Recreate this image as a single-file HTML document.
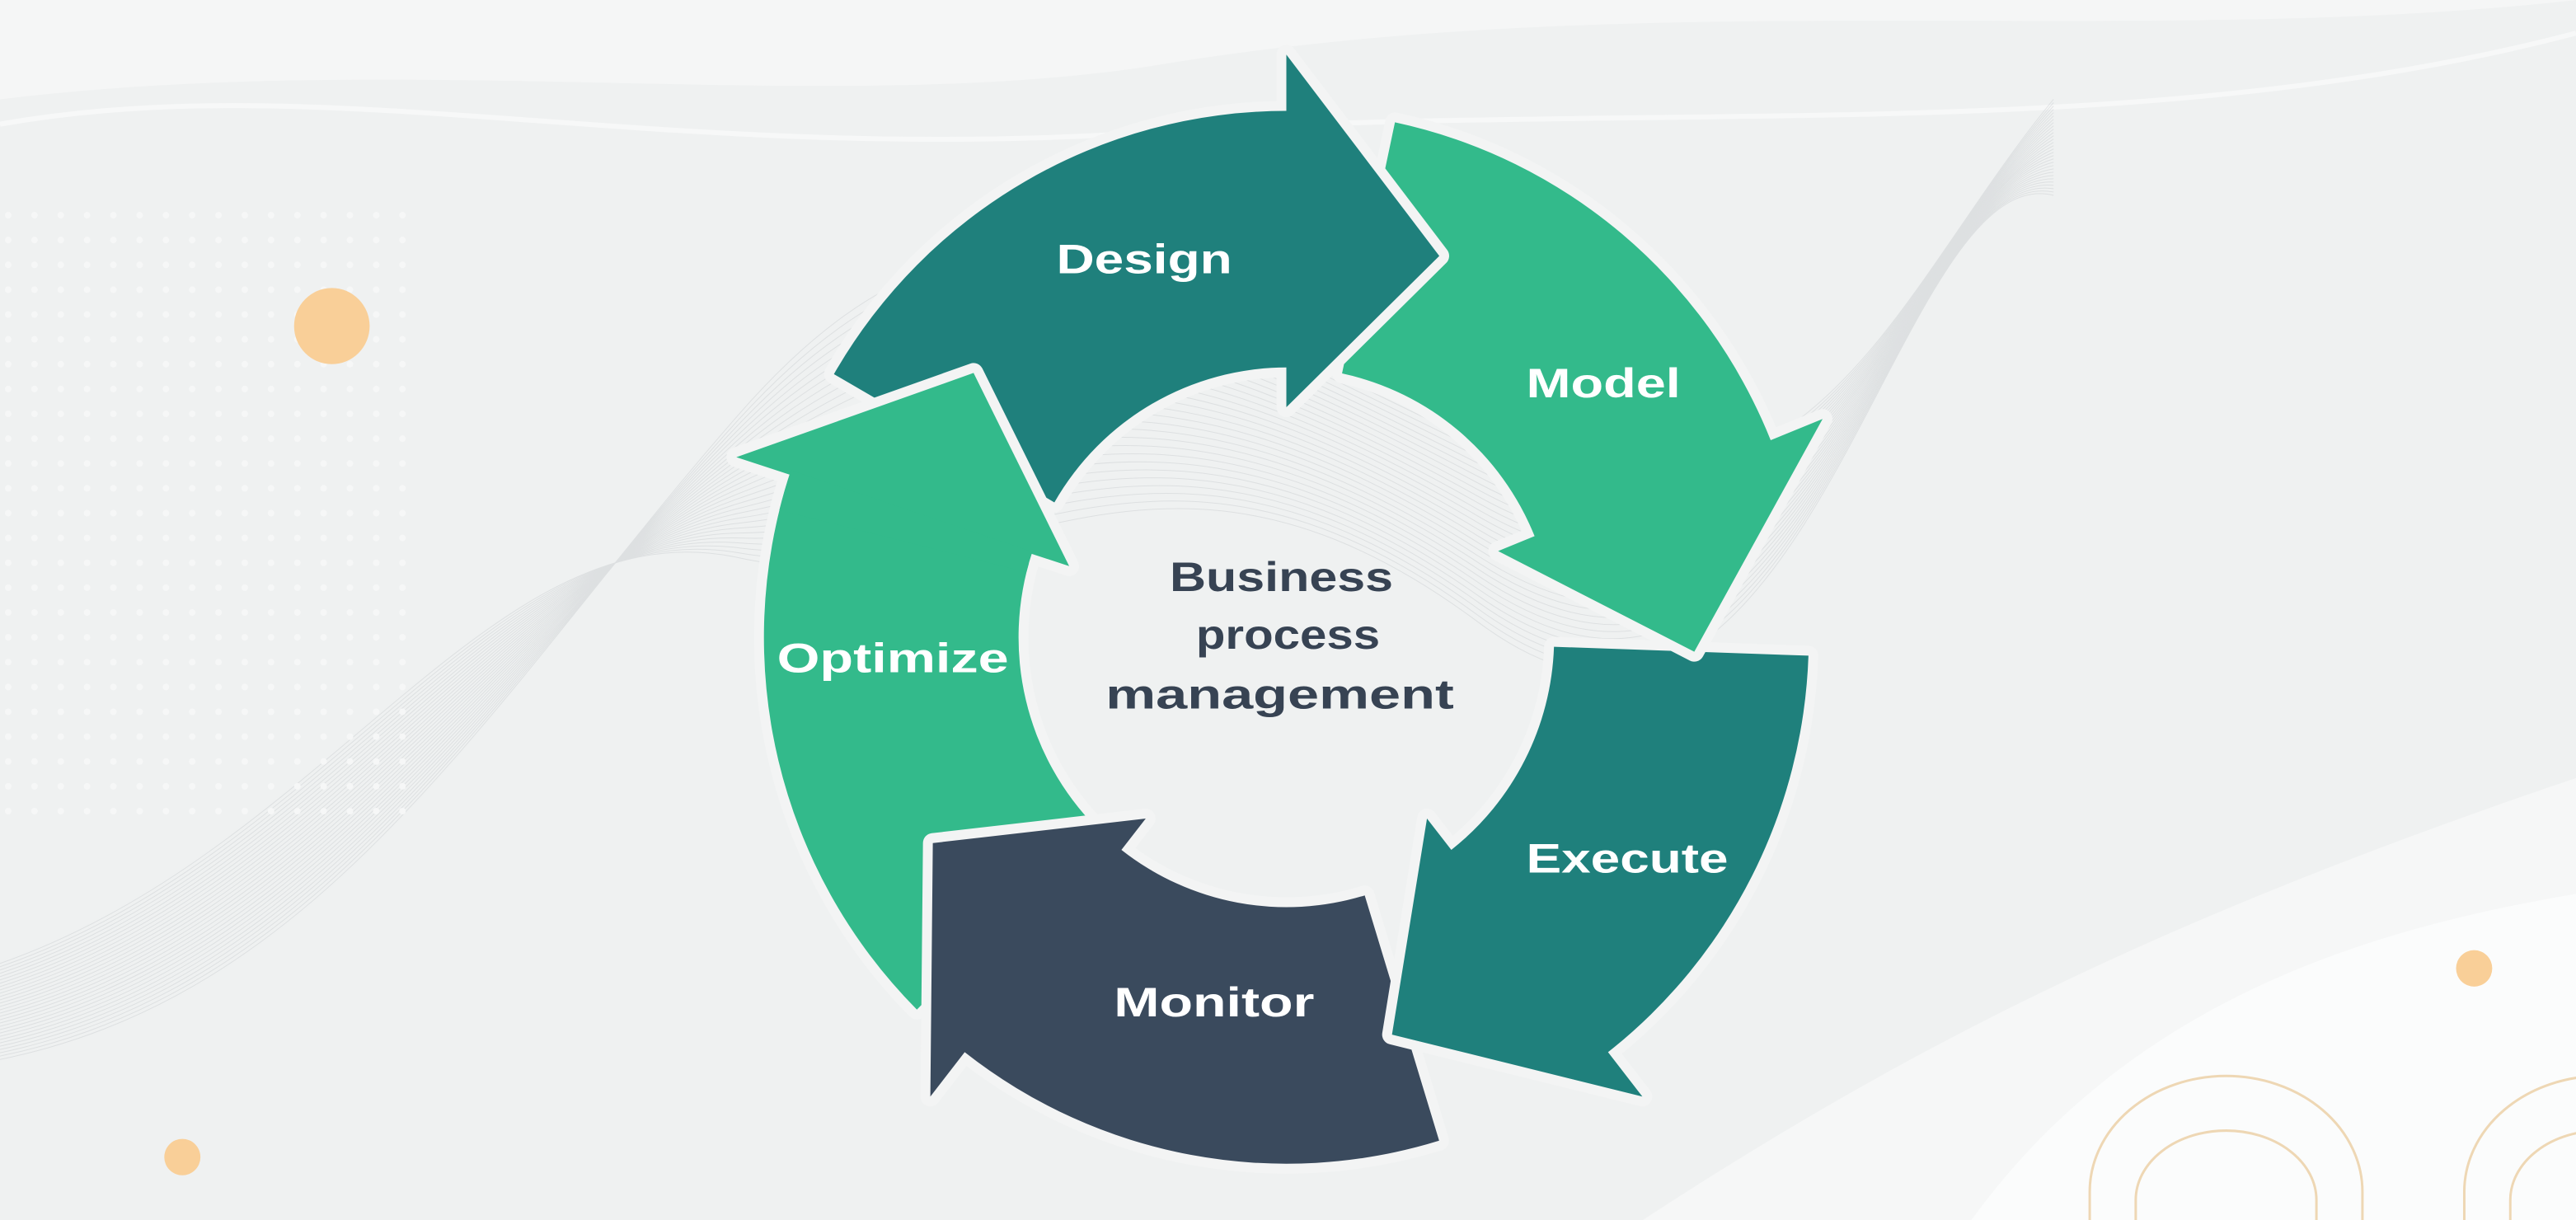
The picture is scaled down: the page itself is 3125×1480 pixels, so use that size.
<!DOCTYPE html>
<html><head><meta charset="utf-8">
<style>
html,body{margin:0;padding:0;background:#eff1f1;}
svg{display:block;}
</style></head>
<body>
<svg id="s" width="3125" height="1480" viewBox="0 0 1568 737" preserveAspectRatio="none" xmlns="http://www.w3.org/2000/svg">
<rect width="1568" height="737" fill="#eff1f1"/>
<path d="M0 0 H1568 V0 C1300 30 1000 -10 700 40 C500 70 250 30 0 60 Z" fill="#f5f6f6"/>
<path d="M1000 737 C1150 640 1300 560 1568 470 V737 Z" fill="#f6f7f7"/>
<path d="M1200 737 C1300 600 1450 560 1568 540 V737 Z" fill="#fbfcfc"/>
<path d="M0 75 C200 40 400 100 700 80 C1000 60 1300 90 1568 20" stroke="#f7f8f8" stroke-width="3" fill="none"/>
<g id="waves" fill="none" stroke="#c9cccf" stroke-width="0.5" opacity="0.45"></g>
<g id="dots" fill="#f6f7f7"></g>
<circle cx="202" cy="197" r="23" fill="#f9cf98"/>
<circle cx="1506" cy="585" r="11" fill="#f9cf98"/>
<circle cx="111" cy="699" r="11" fill="#f9cf98"/>
<g fill="none" stroke="#eed7b4" stroke-width="1.5">
<path d="M1272 737 V720 A83 70 0 0 1 1438 720 V737"/>
<path d="M1300 737 V725 A55 42 0 0 1 1410 725 V737"/>
<path d="M1500 737 V720 A83 70 0 0 1 1666 720 V737"/>
<path d="M1528 737 V725 A55 42 0 0 1 1638 725 V737"/>
</g>
<g id="ring"></g>
<g font-family="'Liberation Sans',sans-serif" font-weight="bold" font-size="25" fill="#ffffff">
<text x="643" y="165" textLength="107" lengthAdjust="spacingAndGlyphs">Design</text>
<text x="929" y="240" textLength="94" lengthAdjust="spacingAndGlyphs">Model</text>
<text x="929" y="527" textLength="123" lengthAdjust="spacingAndGlyphs">Execute</text>
<text x="678" y="614" textLength="122" lengthAdjust="spacingAndGlyphs">Monitor</text>
<text x="473" y="406" textLength="141" lengthAdjust="spacingAndGlyphs">Optimize</text>
</g>
<g font-family="'Liberation Sans',sans-serif" font-weight="bold" font-size="25" fill="#374353">
<text x="712" y="357" textLength="136" lengthAdjust="spacingAndGlyphs">Business</text>
<text x="728" y="392" textLength="112" lengthAdjust="spacingAndGlyphs">process</text>
<text x="673" y="428" textLength="212" lengthAdjust="spacingAndGlyphs">management</text>
</g>
</svg>
<script>
(function(){
var NS="http://www.w3.org/2000/svg";
var cx=783,cy=385,Ro=318,Ri=163,Rm=(Ro+Ri)/2;
function P(a,r){var t=a*Math.PI/180;return [(cx+r*Math.sin(t)).toFixed(1),(cy-r*Math.cos(t)).toFixed(1)];}
function arrow(a0,a1,tip,col,stroke){
  var o0=P(a0,Ro),o1=P(a1,Ro),i0=P(a0,Ri),i1=P(a1,Ri);
  var ho=P(a1,Ro+34),hi=P(a1,Ri-24),t=P(tip,Rm+8);
  var d="M"+i0+" L"+o0+" A"+Ro+" "+Ro+" 0 0 1 "+o1+" L"+ho+" L"+t+" L"+hi+" L"+i1+" A"+Ri+" "+Ri+" 0 0 0 "+i0+" Z";
  var p=document.createElementNS(NS,"path");
  p.setAttribute("d",d);p.setAttribute("fill",col);
  if(stroke){p.setAttribute("stroke","#f3f4f4");p.setAttribute("stroke-width","12");p.setAttribute("stroke-linejoin","round");p.setAttribute("paint-order","stroke");}
  document.getElementById("ring").appendChild(p);
}
function head(a1,tip,col){
  var ho=P(a1,Ro+34),hi=P(a1,Ri-24),t=P(tip,Rm+8);
  var p=document.createElementNS(NS,"path");
  p.setAttribute("d","M"+ho+" L"+t+" L"+hi+" Z");p.setAttribute("fill",col);
  p.setAttribute("stroke","#f3f4f4");p.setAttribute("stroke-width","12");p.setAttribute("stroke-linejoin","round");p.setAttribute("paint-order","stroke");
  document.getElementById("ring").appendChild(p);
  var b0=P(a1-4,Ro),b1=P(a1+0.5,Ro),c1=P(a1+0.5,Ri),c0=P(a1-4,Ri);
  var q=document.createElementNS(NS,"path");
  q.setAttribute("d","M"+c0+" L"+b0+" A"+Ro+" "+Ro+" 0 0 1 "+b1+" L"+c1+" A"+Ri+" "+Ri+" 0 0 0 "+c0+" Z");
  q.setAttribute("fill",col);
  document.getElementById("ring").appendChild(q);
}
var G="#33ba8b",T="#1f807c",N="#3a4a5d";
arrow(225,288,310,G,true);
arrow(163,218,240,N,true);
arrow(92,142,165,T,true);
arrow(12,68,92,G,true);
arrow(-60,0,22,T,true);
head(288,310,G);
var w=document.getElementById("waves");
for(var k=0;k<30;k++){
  var d="M0 "+(640-k*2)+" C200 "+(600-k*3)+" 300 "+(420-k*4)+" 450 "+(250+k*3)+" S700 "+(170+k*2)+" 900 "+(260+k*4)+" S1150 "+(180-k*3)+" 1250 "+(60+k*2);
  var p=document.createElementNS(NS,"path");p.setAttribute("d",d);w.appendChild(p);
}
var dg=document.getElementById("dots");
for(var y=130;y<500;y+=15){for(var x=5;x<260;x+=16){var c=document.createElementNS(NS,"circle");c.setAttribute("cx",x);c.setAttribute("cy",y);c.setAttribute("r",2);dg.appendChild(c);}}
})();
</script>
</body></html>
